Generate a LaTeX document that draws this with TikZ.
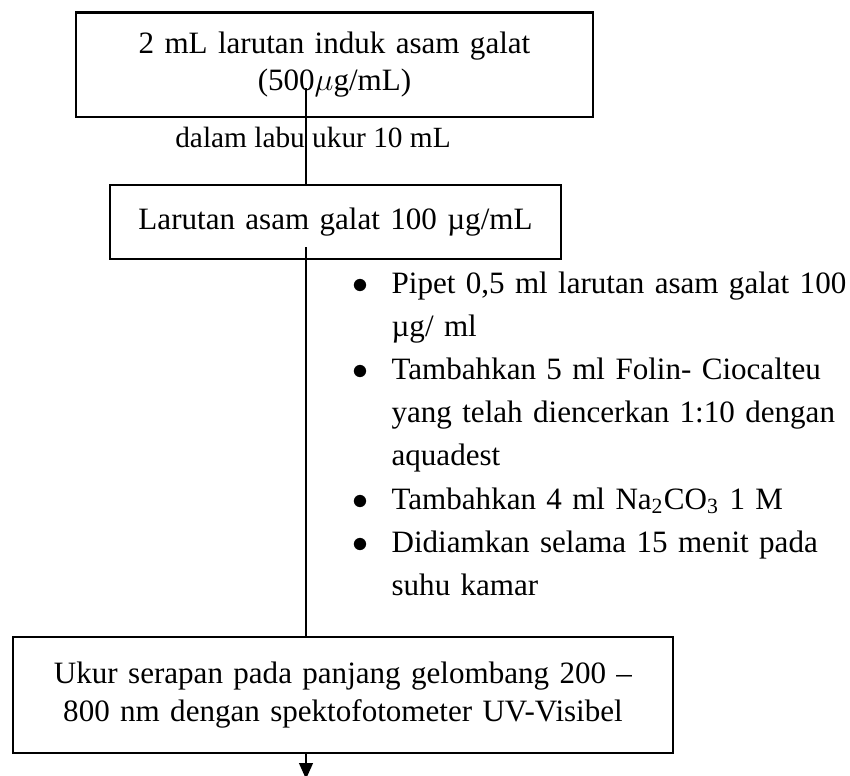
\documentclass[tikz,border=0pt]{standalone}
\usepackage{fontspec}
\setmainfont{Liberation Serif}
\usetikzlibrary{arrows.meta,positioning,calc}

\newcommand{\bul}{\makebox[15.4pt][l]{\hspace{0.6pt}$\bullet$}}
\newcommand{\ind}{\hspace*{15.4pt}}

\begin{document}
\begin{tikzpicture}[
    x=0.375pt, y=-0.375pt,
    block/.style = {
        rectangle,
        draw=black,
        line width=0.8pt,
        inner sep=0pt,
        align=center,
        font=\fontsize{11.65}{14}\selectfont
    },
    note/.style = {
        inner sep=0pt,
        font=\fontsize{11}{13}\selectfont
    },
    list/.style = {
        inner sep=0pt,
        align=left,
        text width=205pt,
        font=\fontsize{11.65}{16.2}\selectfont
    },
    flow/.style = {
        line width=0.6pt,
        draw=black
    },
    arrow/.style = {
        -{Triangle[width=5.2pt,length=6pt]},
        line width=0.6pt,
        draw=black
    }
]
    \useasboundingbox (0,0) rectangle (850,775);

    % Node Definitions
    \node [block, text width=193.9pt, minimum height=39.2pt] (induk) at (334.5,64.75)
        {2 mL larutan induk asam galat\\(500$\mu$g/mL)};

    \node [note] (labu) at (313,137) {dalam labu ukur 10 mL};

    \node [block, text width=169.1pt, minimum height=27.75pt] (larutan) at (335.5,222)
        {Larutan asam galat 100 µg/mL};

    \node [list, anchor=base west] (prosedur) at (350,293) {
        \bul Pipet 0,5 ml larutan asam galat 100\\
        \ind µg/ ml\\
        \bul Tambahkan 5 ml Folin- Ciocalteu\\
        \ind yang telah diencerkan 1:10 dengan\\
        \ind aquadest\\
        \bul Tambahkan 4 ml Na\textsubscript{2}CO\textsubscript{3} 1 M\\
        \bul Didiamkan selama 15 menit pada\\
        \ind suhu kamar
    };

    \node [block, text width=247.5pt, minimum height=43.5pt] (ukur) at (343,695)
        {Ukur serapan pada panjang gelombang 200 --\\
         800 nm dengan spektofotometer UV-Visibel\par\vspace{11pt}};

    % Connectors
    \coordinate (s1) at (306,88);
    \coordinate (s2) at (306,247);
    \coordinate (fin) at (306,779);

    \draw [flow] (s1) -- (s1 |- larutan.north);
    \draw [flow] (s2) -- (s2 |- ukur.north);
    \draw [arrow] (fin |- ukur.south) -- (fin);

\end{tikzpicture}
\end{document}
